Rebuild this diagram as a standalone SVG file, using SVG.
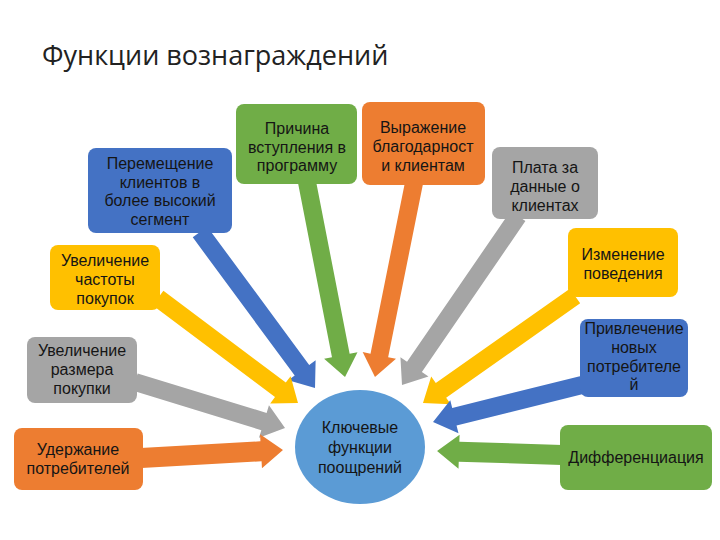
<svg xmlns="http://www.w3.org/2000/svg" width="720" height="540" viewBox="0 0 720 540">
<style>
.t{font-family:"Liberation Sans",Arial,sans-serif;font-size:16px;fill:#151515;text-anchor:middle}
.title{font-family:"Open Sans","Liberation Sans",sans-serif;font-size:27px;fill:#222}
.blue{fill:#4472C4}.green{fill:#70AD47}.orange{fill:#ED7D31}.gray{fill:#A5A5A5}.yellow{fill:#FFC000}.circ{fill:#5B9BD5}
</style>
<rect width="720" height="540" fill="#fff"/>
<text class="title" x="42" y="65">Функции вознаграждений</text>
<g id="connectors">
<path class="blue" transform="translate(200,232) rotate(53.6)" d="M0,-9H171.8V-17L193.8,0L171.8,17V9H0Z"/>
<path class="green" transform="translate(307,182) rotate(78.97)" d="M0,-9H176.7V-17L198.7,0L176.7,17V9H0Z"/>
<path class="orange" transform="translate(414,183) rotate(101.37)" d="M0,-9H175.9V-17L197.9,0L175.9,17V9H0Z"/>
<path class="gray" transform="translate(518,216) rotate(124.46)" d="M0,-9H183V-17L205,0L183,17V9H0Z"/>
<path class="yellow" transform="translate(575,296) rotate(144.86)" d="M0,-9H163.9V-17L185.9,0L163.9,17V9H0Z"/>
<path class="blue" transform="translate(582,385) rotate(166.05)" d="M0,-9H131.5V-17L153.5,0L131.5,17V9H0Z"/>
<path class="green" transform="translate(562,455) rotate(181.83)" d="M0,-10H103V-17L125,0L103,17V10H0Z"/>
<path class="yellow" transform="translate(158,298) rotate(36.87)" d="M0,-9H153V-17L175,0L153,17V9H0Z"/>
<path class="gray" transform="translate(135,382) rotate(17.05)" d="M0,-9H134.9V-17L156.9,0L134.9,17V9H0Z"/>
<path class="orange" transform="translate(141,458) rotate(-3.22)" d="M0,-10H120.2V-17L142.2,0L120.2,17V10H0Z"/>
</g>
<g id="n1"><rect class="blue" x="88" y="148" width="144" height="85" rx="8"/>
<text class="t" x="160" y="169">Перемещение</text><text class="t" x="160" y="187.5">клиентов в</text><text class="t" x="160" y="206">более высокий</text><text class="t" x="160" y="224.5">сегмент</text></g>
<g id="n2"><rect class="green" x="236" y="104" width="121" height="80" rx="8"/>
<text class="t" x="297" y="134">Причина</text><text class="t" x="297" y="153">вступления в</text><text class="t" x="297" y="171">программу</text></g>
<g id="n3"><rect class="orange" x="362" y="102" width="123" height="83" rx="8"/>
<text class="t" x="423" y="133">Выражение</text><text class="t" x="423" y="152">благодарност</text><text class="t" x="423" y="171">и клиентам</text></g>
<g id="n4"><rect class="gray" x="492" y="147" width="106" height="72" rx="8"/>
<text class="t" x="545" y="173">Плата за</text><text class="t" x="545" y="192">данные о</text><text class="t" x="545" y="211">клиентах</text></g>
<g id="n5"><rect class="yellow" x="50" y="245" width="110" height="65" rx="8"/>
<text class="t" x="105" y="266">Увеличение</text><text class="t" x="105" y="285">частоты</text><text class="t" x="105" y="304">покупок</text></g>
<g id="n6"><rect class="gray" x="27" y="337" width="110" height="66" rx="8"/>
<text class="t" x="82" y="356">Увеличение</text><text class="t" x="82" y="375">размера</text><text class="t" x="82" y="394">покупки</text></g>
<g id="n7"><rect class="orange" x="14" y="428" width="129" height="62" rx="8"/>
<text class="t" x="78" y="455">Удержание</text><text class="t" x="78" y="474">потребителей</text></g>
<g id="n8"><rect class="yellow" x="568" y="228" width="110" height="69" rx="8"/>
<text class="t" x="623" y="260">Изменение</text><text class="t" x="623" y="279">поведения</text></g>
<g id="n9"><rect class="blue" x="580" y="319" width="108" height="78" rx="8"/>
<text class="t" x="634" y="334">Привлечение</text><text class="t" x="634" y="353">новых</text><text class="t" x="634" y="372">потребителе</text><text class="t" x="634" y="390">й</text></g>
<g id="n10"><rect class="green" x="560" y="425" width="152" height="65" rx="8"/>
<text class="t" x="636" y="463">Дифференциация</text></g>
<g id="center"><ellipse class="circ" cx="360" cy="447" rx="65" ry="57"/>
<text class="t" x="360" y="433">Ключевые</text><text class="t" x="360" y="453">функции</text><text class="t" x="360" y="473">поощрений</text></g>
</svg>
